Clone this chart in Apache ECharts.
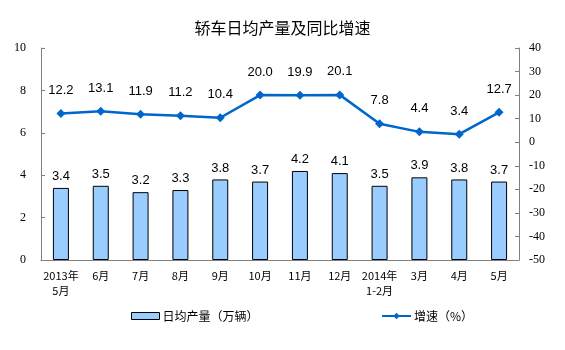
<!DOCTYPE html>
<html><head><meta charset="utf-8">
<script src="https://cdn.jsdelivr.net/npm/echarts@6/dist/echarts.min.js"></script>
<style>html,body{margin:0;padding:0;background:#fff}#c{width:565px;height:350px}</style>
</head><body><div id="c"></div>
<script>
const categories = ['2013年\n5月','6月','7月','8月','9月','10月','11月','12月','2014年\n1-2月','3月','4月','5月'];
const dailyOutput = [3.4,3.5,3.2,3.3,3.8,3.7,4.2,4.1,3.5,3.9,3.8,3.7];
const growth = [12.2,13.1,11.9,11.2,10.4,20.0,19.9,20.1,7.8,4.4,3.4,12.7];
const titleText = '轿车日均产量及同比增速';
const barName = '日均产量（万辆）';
const lineName = '增速（%）';

const chart = echarts.init(document.getElementById('c'), null, {renderer:'canvas'});
const axisCol = '#808080';
const numFont = '"Liberation Serif", "Times New Roman", serif';
const cjkFont = '"Noto Sans CJK SC", sans-serif';
chart.setOption({
  animation:false,
  title:{text:titleText,left:'center',top:15,
    textStyle:{fontSize:16,fontWeight:'normal',color:'#000',fontFamily:cjkFont}},
  grid:{left:41,right:46,top:48,bottom:90},
  legend:[
    {data:[{name:barName,icon:'rect'}],left:126,top:305,itemWidth:28,itemHeight:7,itemGap:4,
     itemStyle:{borderColor:'#000',borderWidth:1},
     textStyle:{fontSize:12,color:'#000',fontFamily:cjkFont,padding:[0,0,0,-2]}},
    {data:[lineName],left:376,top:305,itemWidth:29,itemHeight:8,
     textStyle:{fontSize:12,color:'#000',fontFamily:cjkFont,padding:[0,0,0,-2]}}
  ],
  xAxis:{type:'category',data:categories,
    axisLine:{lineStyle:{color:axisCol}},
    axisTick:{inside:true,length:3,lineStyle:{color:axisCol}},
    axisLabel:{fontSize:11,color:'#000',fontFamily:cjkFont,margin:8,lineHeight:15,interval:0}},
  yAxis:[
    {type:'value',min:0,max:10,interval:2,position:'left',
     axisLine:{show:true,lineStyle:{color:axisCol}},
     axisTick:{show:true,inside:true,length:4,lineStyle:{color:axisCol}},
     splitLine:{show:false},
     axisLabel:{fontSize:12,color:'#000',fontFamily:numFont,margin:15}},
    {type:'value',min:-50,max:40,interval:10,position:'right',
     axisLine:{show:true,lineStyle:{color:axisCol}},
     axisTick:{show:true,inside:true,length:4,lineStyle:{color:axisCol}},
     splitLine:{show:false},
     axisLabel:{fontSize:12,color:'#000',fontFamily:numFont,margin:10}}
  ],
  series:[
    {name:barName,type:'bar',data:dailyOutput,barWidth:16,yAxisIndex:0,
     itemStyle:{color:'#99CCFF',borderColor:'#000',borderWidth:1},
     label:{show:true,position:'top',distance:5,fontSize:13,color:'#000',
       fontFamily:'"Liberation Sans", Arial, sans-serif',formatter:p=>p.value.toFixed(1)}},
    {name:lineName,type:'line',data:growth,yAxisIndex:1,
     symbol:'diamond',symbolSize:9,
     lineStyle:{color:'#0066CC',width:2.5},itemStyle:{color:'#0066CC'},
     label:{show:true,position:'top',distance:12,fontSize:13,color:'#000',
       fontFamily:'"Liberation Sans", Arial, sans-serif',formatter:p=>p.value.toFixed(1)}}
  ]
});
</script></body></html>
